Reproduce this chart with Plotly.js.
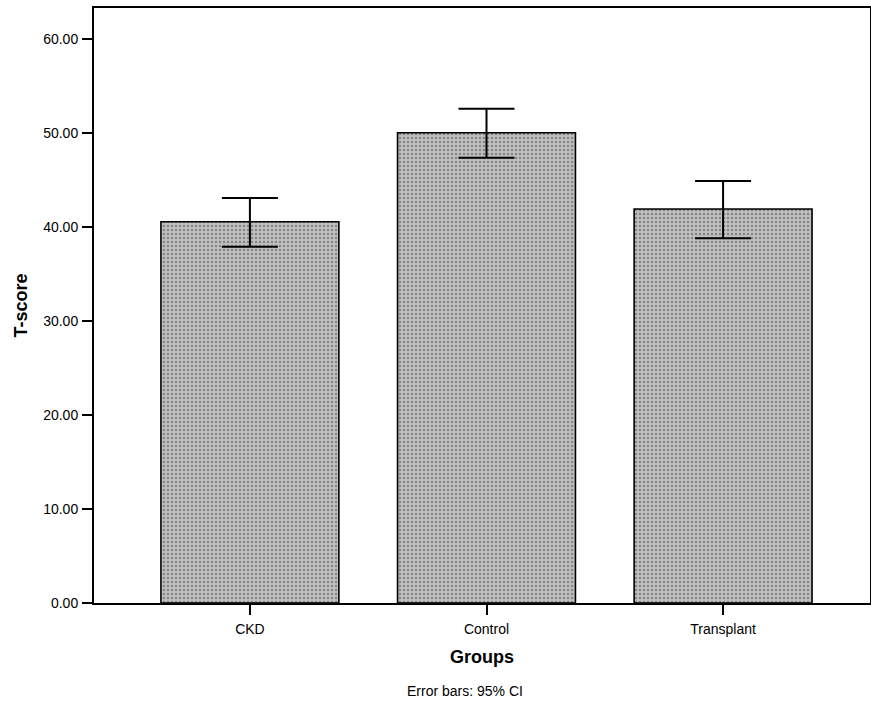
<!DOCTYPE html>
<html>
<head>
<meta charset="utf-8">
<script src="https://cdn.plot.ly/plotly-3.0.1.min.js"></script>
<style>html,body{margin:0;padding:0;background:#fff;}#chart{width:871px;height:701px;}</style>
</head>
<body>
<div id="chart"></div>
<script>
const groups = ["CKD", "Control", "Transplant"];
const meanT = [40.56, 50.03, 41.91];
const ciUpper = [43.09, 52.59, 44.89];
const ciLower = [37.90, 47.37, 38.80];
const yTicks = [0, 10, 20, 30, 40, 50, 60];

const errPlus = meanT.map((m, i) => ciUpper[i] - m);
const errMinus = meanT.map((m, i) => m - ciLower[i]);

const trace = {
  type: "bar",
  x: groups,
  y: meanT,
  width: 0.752,
  marker: {
    color: "#b8b8b8",
    line: {color: "#000", width: 1.6},
    pattern: {shape: ".", fgcolor: "#858585", bgcolor: "#c0c0c0", size: 4, solidity: 0.3}
  },
  error_y: {
    type: "data",
    symmetric: false,
    array: errPlus,
    arrayminus: errMinus,
    color: "#000",
    thickness: 2,
    width: 28
  },
  hoverinfo: "skip"
};

const layout = {
  width: 871,
  height: 701,
  margin: {l: 94, r: 1, t: 8, b: 98},
  paper_bgcolor: "#fff",
  plot_bgcolor: "#fff",
  showlegend: false,
  font: {family: "Liberation Sans, Arial, sans-serif", color: "#000", size: 13},
  xaxis: {
    type: "category",
    range: [-0.659, 2.621],
    showline: true, linecolor: "#000", linewidth: 2, mirror: true,
    ticks: "outside", ticklen: 10, tickwidth: 2, tickcolor: "#000",
    ticklabelstandoff: 2,
    showgrid: false, zeroline: false,
    tickfont: {size: 14},
    title: {text: "<b>Groups</b>", font: {size: 18}, standoff: 15}
  },
  yaxis: {
    range: [0, 63.3],
    tickvals: yTicks,
    ticktext: yTicks.map(v => v.toFixed(2)),
    showline: true, linecolor: "#000", linewidth: 2, mirror: true,
    ticks: "outside", ticklen: 10, tickwidth: 2, tickcolor: "#000",
    ticklabelstandoff: 1,
    showgrid: false, zeroline: false,
    tickfont: {size: 14},
    title: {text: "<b>T-score</b>", font: {size: 18}, standoff: 11}
  },
  annotations: [{
    text: "Error bars: 95% CI",
    xref: "paper", yref: "paper",
    x: (465 - 94) / 777, y: (603 - 691) / 595,
    xanchor: "center", yanchor: "middle",
    showarrow: false,
    font: {size: 14}
  }]
};

Plotly.newPlot("chart", [trace], layout, {displayModeBar: false, staticPlot: true});
</script>
</body>
</html>
